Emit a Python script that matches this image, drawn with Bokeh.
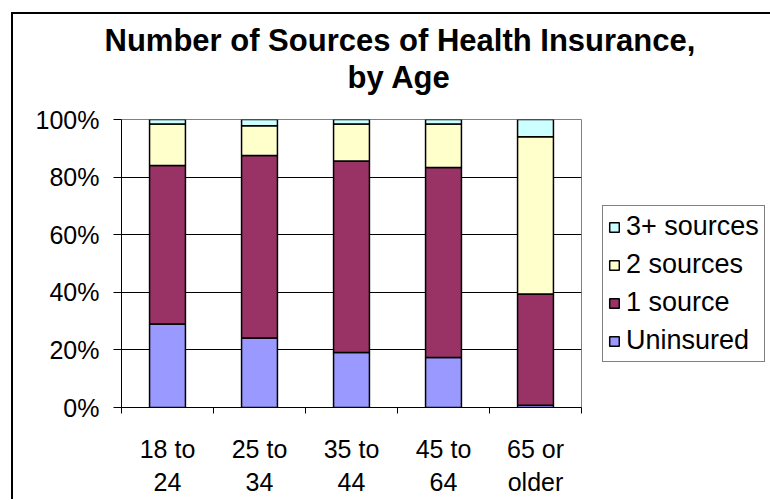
from bokeh.plotting import figure
from bokeh.models import (ColumnDataSource, FixedTicker, PrintfTickFormatter, Legend,
                          LegendItem, Title, Range1d)
from bokeh.embed import file_html
from bokeh.resources import INLINE

# ---- data ----
ages = ["18 to\n24", "25 to\n34", "35 to\n44", "45 to\n64", "65 or\nolder"]
uninsured = [29.0, 24.1, 19.1, 17.4, 0.8]
one_source = [55.0, 63.4, 66.5, 65.9, 38.6]
two_sources = [14.4, 10.3, 12.8, 15.1, 54.6]
three_plus = [1.6, 2.2, 1.6, 1.6, 6.0]
series = ["Uninsured", "1 source", "2 sources", "3+ sources"]
y_ticks = [0, 20, 40, 60, 80, 100]
title_lines = ["Number of Sources of Health Insurance,", "by Age"]

colors = ["#9999FF", "#993366", "#FFFFCC", "#CCFFFF"]
FONT = "Liberation Sans"

xpos = [i + 0.5 for i in range(len(ages))]
source = ColumnDataSource(dict(x=xpos, Uninsured=uninsured, **{"1 source": one_source},
                               **{"2 sources": two_sources}, **{"3+ sources": three_plus}))

p = figure(frame_width=460, frame_height=288, output_backend="svg", toolbar_location=None,
           x_range=Range1d(0, len(ages)), y_range=Range1d(0, 100),
           min_border_left=108, min_border_right=189, min_border_top=105, min_border_bottom=88)
p.styles = {"margin-left": "11px", "margin-top": "12px",
            "border-left": "2px solid black", "border-top": "2px solid black"}

renderers = p.vbar_stack(series, x="x", width=0.39, source=source, color=colors,
                         line_color="black", line_width=1.5)

# axes
p.yaxis.ticker = FixedTicker(ticks=y_ticks)
p.yaxis.formatter = PrintfTickFormatter(format="%d%%")
p.yaxis.major_tick_out = 8
p.yaxis.major_tick_in = 0
p.yaxis.minor_tick_line_color = None
p.yaxis.major_label_standoff = 14
p.yaxis.axis_line_color = "black"
p.yaxis.major_tick_line_color = "black"

p.xaxis.ticker = FixedTicker(ticks=xpos, minor_ticks=list(range(len(ages) + 1)))
p.xaxis.major_label_overrides = {x: lab for x, lab in zip(xpos, ages)}
p.xaxis.major_tick_out = 0
p.xaxis.major_tick_in = 0
p.xaxis.minor_tick_out = 6
p.xaxis.minor_tick_in = 0
p.xaxis.minor_tick_line_color = "black"
p.xaxis.major_label_standoff = 21
p.xaxis.axis_line_color = "black"

for ax in (p.xaxis[0], p.yaxis[0]):
    ax.major_label_text_font = FONT
    ax.major_label_text_font_size = "25px"
    ax.major_label_text_color = "black"

p.xgrid.grid_line_color = None
p.ygrid.grid_line_color = "black"
p.ygrid.grid_line_width = 1
p.outline_line_color = "#808080"
p.outline_line_width = 1

# title: spacer nearest the frame, then the two lines
p.add_layout(Title(text=" ", standoff=0, text_font=FONT, text_font_size="21px"), "above")
p.add_layout(Title(text=title_lines[1], align="left", offset=226, standoff=0,
                   text_font=FONT, text_font_style="bold", text_font_size="31px",
                   text_color="black"), "above")
p.add_layout(Title(text=title_lines[0], align="left", offset=-17, standoff=0,
                   text_font=FONT, text_font_style="bold", text_font_size="31px",
                   text_color="black"), "above")

# legend (reverse order), in the right panel
items = [LegendItem(label=s, renderers=[r]) for s, r in zip(series, renderers)][::-1]
legend = Legend(items=items, location=(21, 45), orientation="vertical")
legend.label_text_font = FONT
legend.label_text_font_size = "27px"
legend.label_text_color = "black"
legend.glyph_width = 12
legend.glyph_height = 12
legend.label_standoff = 6
legend.padding = 5
legend.spacing = 7
legend.margin = 0
legend.border_line_color = "black"
legend.border_line_width = 1
legend.background_fill_color = "white"
legend.background_fill_alpha = 1
p.add_layout(legend, "right")

open("out.html", "w").write(file_html(p, INLINE))
